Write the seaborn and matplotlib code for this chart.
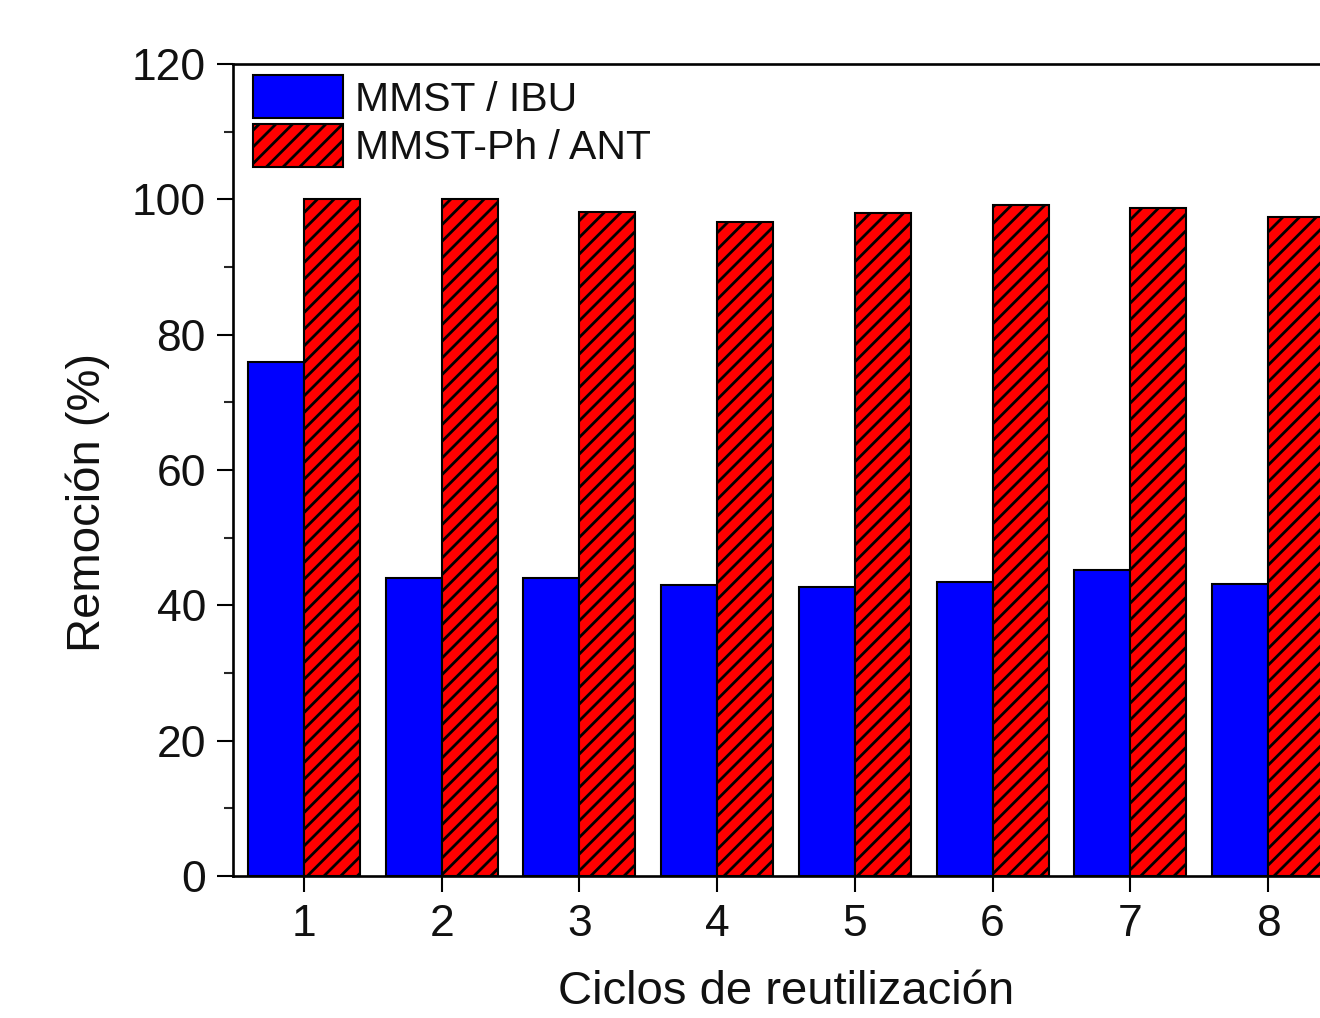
import matplotlib
matplotlib.use("Agg")
import matplotlib.pyplot as plt
from matplotlib.patches import Patch
from matplotlib.ticker import MultipleLocator
import seaborn as sns
import pandas as pd

# Reuse cycles and removal percentages for both adsorbent / drug pairs
ciclos = ["1", "2", "3", "4", "5", "6", "7", "8"]
series = ["MMST / IBU", "MMST-Ph / ANT"]
remocion_ibu = [76.0, 44.0, 44.0, 43.0, 42.7, 43.4, 45.2, 43.2]
remocion_ant = [100.0, 100.0, 98.2, 96.7, 98.0, 99.2, 98.7, 97.4]
colores = ["#0000ff", "#ff0000"]

df = pd.DataFrame({
    "ciclo": ciclos * 2,
    "remocion": remocion_ibu + remocion_ant,
    "muestra": [series[0]] * len(ciclos) + [series[1]] * len(ciclos),
})

sns.set_style("ticks")
plt.rcParams["font.family"] = ["Liberation Sans", "DejaVu Sans"]
plt.rcParams["hatch.color"] = "black"
plt.rcParams["hatch.linewidth"] = 2.0

FS_TICK = 32
FS_LABEL = 34
FS_LEG = 29.5
TXT = "#111111"

fig = plt.figure(figsize=(13.2, 10.18), dpi=100)
fig.patch.set_facecolor("white")
ax = fig.add_axes([233 / 1320, 1 - 876 / 1018, 1106 / 1320, 812 / 1018])

sns.barplot(
    data=df, x="ciclo", y="remocion", hue="muestra", hue_order=series,
    palette=colores, saturation=1, width=0.813, gap=0,
    edgecolor="black", linewidth=1.5, legend=False, ax=ax,
)

# hatch the second series
for bar in ax.containers[1]:
    bar.set_hatch("//")

ax.set_xlim(-0.515, 7.515)
ax.set_ylim(0, 120)
ax.yaxis.set_major_locator(MultipleLocator(20))
ax.yaxis.set_minor_locator(MultipleLocator(10))

for side in ["left", "bottom", "top", "right"]:
    ax.spines[side].set_visible(True)
    ax.spines[side].set_linewidth(1.9)
    ax.spines[side].set_color("black")

ax.tick_params(axis="both", which="major", direction="out", length=11.5,
               width=1.5, labelsize=FS_TICK, color="black", labelcolor=TXT)
ax.tick_params(axis="y", which="major", pad=8)
ax.tick_params(axis="x", which="major", pad=9)
ax.tick_params(axis="y", which="minor", direction="out", length=6.5, width=1.5)
ax.tick_params(top=False, right=False)

ax.set_xlabel("Ciclos de reutilización", fontsize=FS_LABEL, color=TXT, labelpad=18)
ax.set_ylabel("Remoción (%)", fontsize=FS_LABEL, color=TXT)
ax.yaxis.set_label_coords(-0.111, 0.46)

handles = [
    Patch(facecolor=colores[0], edgecolor="black", linewidth=1.5, label=series[0]),
    Patch(facecolor=colores[1], edgecolor="black", linewidth=1.5, hatch="//", label=series[1]),
]
ax.legend(
    handles=handles, loc="upper left", bbox_to_anchor=(0.018, 0.986),
    frameon=False, fontsize=FS_LEG, handlelength=2.2, handleheight=1.24,
    handletextpad=0.3, labelspacing=0.12, borderpad=0, borderaxespad=0,
    labelcolor=TXT,
)

fig.savefig("out.png", dpi=100, facecolor="white")
